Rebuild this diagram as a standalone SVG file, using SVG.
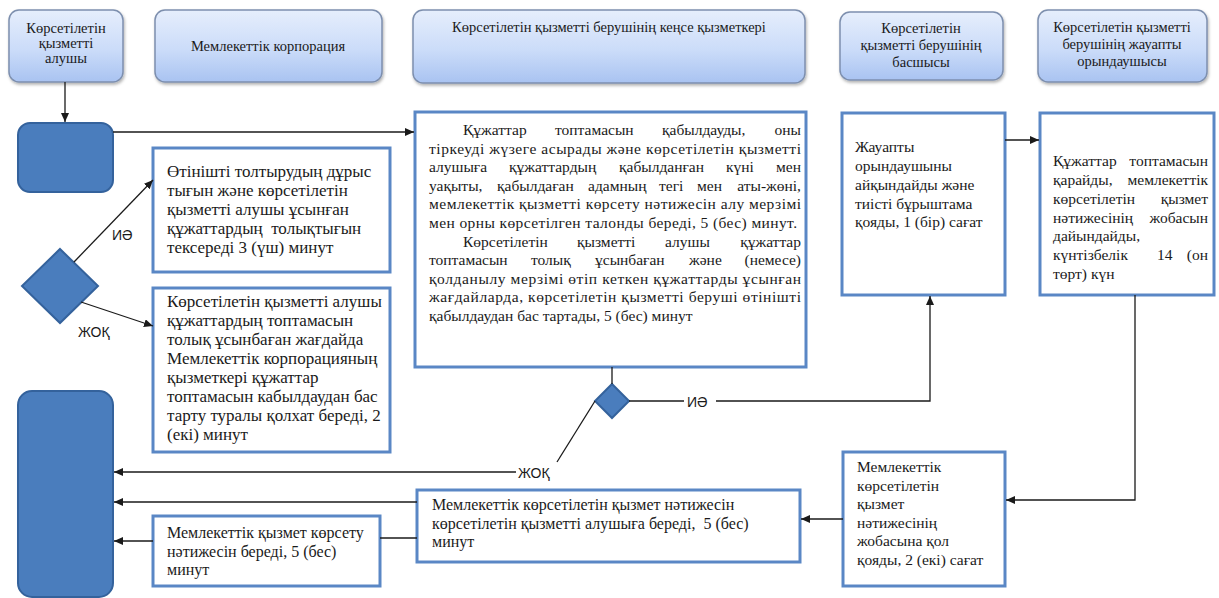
<svg xmlns="http://www.w3.org/2000/svg" width="1219" height="598" viewBox="0 0 1219 598">
<style>
.hdr{fill:url(#hg);stroke:#7d8fae;stroke-width:1.5;filter:url(#sh)}
.blue{fill:#4a7dbd;stroke:#34629c;stroke-width:2}
.box{fill:#fff;stroke:#5a87c5;stroke-width:3}
.h{font-family:"Liberation Serif","Times New Roman","DejaVu Serif",serif;font-size:14.5px;fill:#1a1a1a;text-anchor:middle}
.t{font-family:"Liberation Serif","Times New Roman","DejaVu Serif",serif;font-size:15.5px;fill:#1a1a1a}
.tl{font-size:17px}
.tm{font-size:16px}
.pre{white-space:pre}
.lbl{font-family:"Liberation Sans",Arial,sans-serif;font-size:14px;fill:#1a1a1a}
.c{fill:none;stroke:#1a1a1a;stroke-width:1.3}
</style>
<defs>
<linearGradient id="hg" x1="0" y1="0" x2="0" y2="1">
<stop offset="0" stop-color="#e6eefc"/>
<stop offset="0.55" stop-color="#cbdcf9"/>
<stop offset="1" stop-color="#a9c3f1"/>
</linearGradient>
<filter id="sh" x="-10%" y="-10%" width="120%" height="130%">
<feDropShadow dx="1" dy="2" stdDeviation="1.5" flood-color="#000" flood-opacity="0.3"/>
</filter>
<marker id="ar" markerUnits="userSpaceOnUse" markerWidth="10" markerHeight="8" refX="9" refY="4" orient="auto">
<path d="M0,0 L9,4 L0,8 z" fill="#1a1a1a"/>
</marker>
</defs>
<rect width="1219" height="598" fill="#fff"/>

<g id="hdr1"><rect class="hdr" x="9" y="10" width="114" height="72" rx="10"/>
<text class="h" x="66" y="33">Көрсетілетін</text><text class="h" x="66" y="48">қызметті</text><text class="h" x="66" y="63">алушы</text></g>
<g id="hdr2"><rect class="hdr" x="155" y="10" width="227" height="72" rx="10"/>
<text class="h" x="268" y="51">Мемлекеттік корпорация</text></g>
<g id="hdr3"><rect class="hdr" x="413" y="10" width="392" height="73" rx="10"/>
<text class="h" x="609" y="32">Көрсетілетін қызметті берушінің кеңсе қызметкері</text></g>
<g id="hdr4"><rect class="hdr" x="840" y="12" width="163" height="68" rx="10"/>
<text class="h" x="921" y="33">Көрсетілетін</text><text class="h" x="921" y="50">қызметті берушінің</text><text class="h" x="921" y="67">басшысы</text></g>
<g id="hdr5"><rect class="hdr" x="1038" y="10" width="169" height="72" rx="10"/>
<text class="h" x="1122" y="32">Көрсетілетін қызметті</text><text class="h" x="1122" y="49">берушінің жауапты</text><text class="h" x="1122" y="66">орындаушысы</text></g>

<g id="start"><rect class="blue" x="18" y="123" width="95" height="69" rx="12"/></g>
<g id="end"><rect class="blue" x="18" y="391" width="95" height="206" rx="14"/></g>
<g id="dec1"><polygon class="blue" points="60,249 98,286 60,323 22,286"/></g>
<g id="dec2"><polygon class="blue" points="612,384 629,401 612,418 595,401"/></g>

<g id="boxA"><rect class="box" x="153" y="148" width="237" height="124"/>
<text class="t tl" x="167" y="177">Өтінішті толтырудың дұрыс</text>
<text class="t tl" x="167" y="196">тығын және көрсетілетін</text>
<text class="t tl" x="167" y="215">қызметті алушы ұсынған</text>
<text class="t tl pre" x="167" y="234">құжаттардың  толықтығын</text>
<text class="t tl" x="167" y="253">тексереді 3 (үш) минут</text></g>

<g id="boxB"><rect class="box" x="153" y="288" width="237" height="164"/>
<text class="t tl" x="167" y="307">Көрсетілетін қызметті алушы</text>
<text class="t tl" x="167" y="326">құжаттардың топтамасын</text>
<text class="t tl" x="167" y="345">толық ұсынбаған жағдайда</text>
<text class="t tl" x="167" y="364">Мемлекеттік корпорацияның</text>
<text class="t tl" x="167" y="383">қызметкері құжаттар</text>
<text class="t tl" x="167" y="402">топтамасын кабылдаудан бас</text>
<text class="t tl" x="167" y="421">тарту туралы қолхат береді, 2</text>
<text class="t tl" x="167" y="440">(екі) минут</text></g>

<g id="boxMain"><rect class="box" x="415" y="112" width="391" height="255"/>
<text class="t" y="135"><tspan x="463">Құжаттар</tspan><tspan x="555">топтамасын</tspan><tspan x="662">қабылдауды,</tspan><tspan x="801" text-anchor="end">оны</tspan></text>
<text class="t" x="429" y="153.6" textLength="372" lengthAdjust="spacing">тіркеуді жүзеге асырады және көрсетілетін қызметті</text>
<text class="t" y="172.2"><tspan x="429">алушыға</tspan><tspan x="509">құжаттардың</tspan><tspan x="619">қабылданған</tspan><tspan x="726">күні</tspan><tspan x="801" text-anchor="end">мен</tspan></text>
<text class="t" y="190.8"><tspan x="429">уақыты,</tspan><tspan x="497">қабылдаған</tspan><tspan x="588">адамның</tspan><tspan x="659">тегі</tspan><tspan x="697">мен</tspan><tspan x="801" text-anchor="end">аты-жөні,</tspan></text>
<text class="t" x="429" y="209.4" textLength="372" lengthAdjust="spacing">мемлекеттік қызметті көрсету нәтижесін алу мерзімі</text>
<text class="t" x="429" y="228" textLength="368" lengthAdjust="spacing">мен орны көрсетілген талонды береді, 5 (бес) минут.</text>
<text class="t" y="246.6"><tspan x="463">Көрсетілетін</tspan><tspan x="577">қызметті</tspan><tspan x="665">алушы</tspan><tspan x="801" text-anchor="end">құжаттар</tspan></text>
<text class="t" y="265.2"><tspan x="429">топтамасын</tspan><tspan x="531">толық</tspan><tspan x="595">ұсынбаған</tspan><tspan x="689">және</tspan><tspan x="801" text-anchor="end">(немесе)</tspan></text>
<text class="t" x="429" y="283.8" textLength="372" lengthAdjust="spacing">қолданылу мерзімі өтіп кеткен құжаттарды ұсынған</text>
<text class="t" x="429" y="302.4" textLength="372" lengthAdjust="spacing">жағдайларда, көрсетілетін қызметті беруші өтінішті</text>
<text class="t" x="429" y="321">қабылдаудан бас тартады, 5 (бес) минут</text></g>

<g id="boxC"><rect class="box" x="842" y="113" width="163" height="182"/>
<text class="t" x="855" y="152">Жауапты</text>
<text class="t" x="855" y="171">орындаушыны</text>
<text class="t" x="855" y="190">айқындайды және</text>
<text class="t" x="855" y="208.5">тиісті бұрыштама</text>
<text class="t" x="855" y="227">қояды, 1 (бір) сағат</text></g>

<g id="boxG"><rect class="box" x="1040" y="113" width="174" height="182"/>
<text class="t" y="166"><tspan x="1053">Құжаттар</tspan><tspan x="1208" text-anchor="end">топтамасын</tspan></text>
<text class="t" y="185"><tspan x="1053">қарайды,</tspan><tspan x="1208" text-anchor="end">мемлекеттік</tspan></text>
<text class="t" y="204"><tspan x="1053">көрсетілетін</tspan><tspan x="1208" text-anchor="end">қызмет</tspan></text>
<text class="t" y="222.5"><tspan x="1053">нәтижесінің</tspan><tspan x="1208" text-anchor="end">жобасын</tspan></text>
<text class="t" x="1053" y="241">дайындайды,</text>
<text class="t" y="260"><tspan x="1053">күнтізбелік</tspan><tspan x="1157">14</tspan><tspan x="1208" text-anchor="end">(он</tspan></text>
<text class="t" x="1053" y="279">төрт) күн</text></g>

<g id="boxF"><rect class="box" x="843" y="452" width="162" height="134"/>
<text class="t" x="857" y="472">Мемлекеттік</text>
<text class="t" x="857" y="490.6">көрсетілетін</text>
<text class="t" x="857" y="509.2">қызмет</text>
<text class="t" x="857" y="527.8">нәтижесінің</text>
<text class="t" x="857" y="546.4">жобасына қол</text>
<text class="t" x="857" y="565">қояды, 2 (екі) сағат</text></g>

<g id="boxD"><rect class="box" x="417" y="490" width="383" height="72"/>
<text class="t tm" x="432" y="510">Мемлекеттік көрсетілетін қызмет нәтижесін</text>
<text class="t tm pre" x="432" y="528.6">көрсетілетін қызметті алушыға береді,  5 (бес)</text>
<text class="t tm" x="432" y="547.2">минут</text></g>

<g id="boxE"><rect class="box" x="153" y="516" width="227" height="70"/>
<text class="t tm" x="167" y="538">Мемлекеттік қызмет көрсету</text>
<text class="t tm" x="167" y="556.6">нәтижесін береді, 5 (бес)</text>
<text class="t tm" x="167" y="575.2">минут</text></g>

<g id="connectors">
<line class="c" x1="65" y1="82" x2="65" y2="122" marker-end="url(#ar)"/>
<line class="c" x1="113" y1="132" x2="414" y2="132" marker-end="url(#ar)"/>
<line class="c" x1="74" y1="262" x2="153" y2="180" marker-end="url(#ar)"/>
<line class="c" x1="81" y1="302" x2="153" y2="326" marker-end="url(#ar)"/>
<line class="c" x1="612" y1="367" x2="612" y2="384"/>
<polyline class="c" points="629,401 684,401"/>
<polyline class="c" points="716,401 930,401 930,296" marker-end="url(#ar)"/>
<polyline class="c" points="595,401 557,462"/>
<line class="c" x1="516" y1="472" x2="114" y2="472" marker-end="url(#ar)"/>
<line class="c" x1="1005" y1="140" x2="1039" y2="140" marker-end="url(#ar)"/>
<polyline class="c" points="1135,295 1135,500 1006,500" marker-end="url(#ar)"/>
<line class="c" x1="843" y1="519" x2="801" y2="519" marker-end="url(#ar)"/>
<line class="c" x1="417" y1="502" x2="114" y2="502" marker-end="url(#ar)"/>
<line class="c" x1="417" y1="538" x2="380" y2="538"/>
<line class="c" x1="153" y1="541" x2="114" y2="541" marker-end="url(#ar)"/>
<text class="lbl" x="112" y="240">ИӘ</text>
<text class="lbl" x="78" y="337">ЖОҚ</text>
<text class="lbl" x="687" y="407">ИӘ</text>
<text class="lbl" x="518" y="478">ЖОҚ</text>
</g>
</svg>
